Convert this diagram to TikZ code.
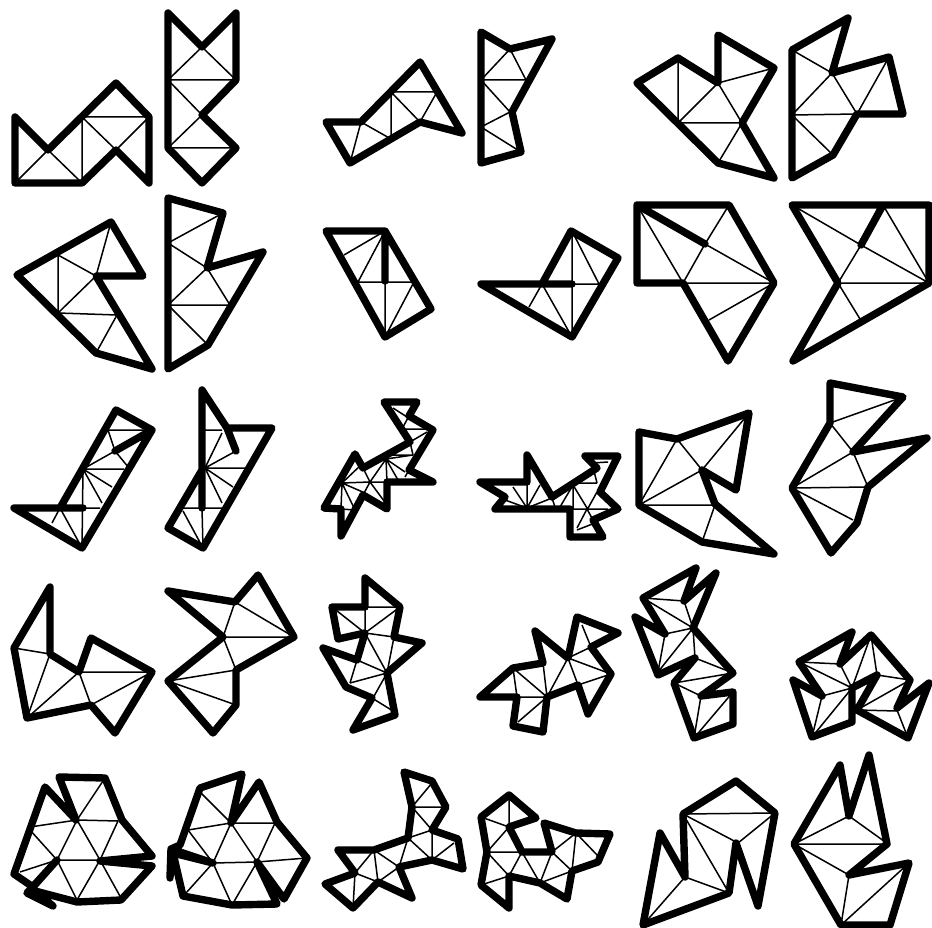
\documentclass[tikz,border=0pt]{standalone}
\usepackage{tikz}
\tikzset{
  hull/.style={line width=7.4pt,line join=round,line cap=round},
  mesh/.style={line width=1.5pt}
}
\begin{document}
\begin{tikzpicture}[x=1pt,y=-1pt]
  \useasboundingbox (0,0) rectangle (932,928);
  % row 1
  \draw[mesh] (48,150)--(15,183) (48,150)--(82,183) (82,117)--(82,183) (82,117)--(149,117) (82,117)--(116,150) (149,117)--(116,150);
  \draw[hull] (15,117)--(48,150)--(116,83)--(149,117)--(149,183)--(116,150)--(82,183)--(15,183)--cycle;
  \draw[mesh] (202,47)--(168,80) (202,47)--(236,80) (168,80)--(236,80) (168,80)--(202,115) (202,115)--(168,148) (168,148)--(236,148);
  \draw[hull] (168,13)--(202,47)--(236,13)--(236,80)--(202,115)--(236,148)--(202,183)--(168,148)--cycle;
  \draw[mesh] (361,122)--(350,163) (361,122)--(391,139) (391,92)--(391,139) (391,92)--(437,92) (391,92)--(420,122) (437,92)--(420,122);
  \draw[hull] (326,122)--(361,122)--(420,62)--(462,133)--(420,122)--(350,163)--cycle;
  \draw[mesh] (510,49)--(481,80) (510,49)--(526,80) (481,80)--(526,80) (481,80)--(510,112) (510,112)--(481,127) (481,127)--(521,152);
  \draw[hull] (481,32)--(510,49)--(552,39)--(512,112)--(521,152)--(481,163)--cycle;
  \draw[mesh] (678,58)--(678,123) (678,123)--(718,83) (718,83)--(774,68) (718,83)--(742,123) (678,123)--(742,123) (742,123)--(718,163);
  \draw[hull] (637,83)--(678,58)--(718,83)--(718,35)--(774,68)--(742,123)--(774,178)--(718,163)--cycle;
  \draw[mesh] (792,50)--(832,73) (832,73)--(792,115) (832,73)--(857,114) (889,57)--(857,114) (792,115)--(857,114) (792,115)--(833,155);
  \draw[hull] (792,50)--(848,18)--(832,73)--(889,57)--(903,114)--(857,114)--(833,155)--(792,178)--cycle;
  % row 2
  \draw[mesh] (58,255)--(58,313) (58,255)--(96,276) (96,276)--(111,222) (96,276)--(58,313) (58,313)--(117,315) (117,315)--(96,353);
  \draw[hull] (17,275)--(111,222)--(143,276)--(96,276)--(152,369)--(96,353)--cycle;
  \draw[mesh] (223,213)--(168,243) (168,243)--(207,268) (207,268)--(168,305) (207,268)--(230,305) (168,305)--(230,305) (168,305)--(208,345);
  \draw[hull] (168,198)--(223,213)--(207,268)--(263,252)--(208,345)--(168,369)--cycle;
  \draw[mesh] (385,231)--(344,255) (385,231)--(358,282) (358,282)--(414,282) (385,283)--(385,337) (414,282)--(385,337);
  \draw[hull] (326,231)--(385,231)--(431,309)--(385,337)--cycle (385,231)--(385,281);
  \draw[mesh] (572,231)--(572,337) (572,284)--(599,284) (572,231)--(599,284) (542,284)--(529,307) (542,284)--(572,337);
  \draw[hull] (481,284)--(542,284)--(571,231)--(618,258)--(572,337)--cycle (542,284)--(572,284);
  \draw[mesh] (637,205)--(683,283) (729,205)--(705,244) (705,244)--(683,283) (705,244)--(774,283) (683,283)--(774,283) (774,283)--(709,320);
  \draw[hull] (637,205)--(729,205)--(774,283)--(728,361)--(683,283)--(637,283)--cycle (637,205)--(705,244);
  \draw[mesh] (792,205)--(861,245) (861,245)--(838,283) (861,245)--(929,283) (883,205)--(929,283) (838,283)--(929,283) (838,283)--(860,319);
  \draw[hull] (792,205)--(929,205)--(929,283)--(793,361)--(838,283)--cycle (883,205)--(861,245);
  % row 3
  \draw[mesh] (108,430)--(152,430) (108,430)--(115,451) (115,451)--(129,468) (83,469)--(115,451) (83,469)--(124,469) (83,469)--(112,487) (83,469)--(102,503) (83,469)--(82,548) (83,508)--(100,508) (60,508)--(52,523) (60,508)--(82,548);
  \draw[hull] (14,508)--(60,508)--(116,410)--(152,430)--(82,548)--cycle (60,508)--(83,508) (152,430)--(115,451);
  \draw[mesh] (202,430)--(222,430) (205,468)--(222,433) (205,468)--(236,451) (205,468)--(246,468) (205,468)--(233,487) (205,468)--(222,503) (183,508)--(222,508) (202,508)--(203,548) (183,511)--(203,548);
  \draw[hull] (202,508)--(202,390)--(227,428)--(236,451) (227,428)--(272,428)--(203,548)--(168,528)--(202,470);
  \draw[mesh] (393,408)--(407,417) (409,416)--(403,427) (403,429)--(430,429) (403,429)--(410,442) (410,442)--(427,432) (410,442)--(413,455) (393,455)--(413,455) (410,442)--(393,455) (386,459)--(387,482) (386,459)--(398,480) (386,459)--(405,472) (386,459)--(413,455) (405,477)--(409,470) (370,482)--(386,459) (370,482)--(363,468) (370,482)--(387,482) (370,482)--(387,505) (370,482)--(363,495) (342,483)--(370,482) (342,483)--(361,465) (342,483)--(353,458) (342,483)--(365,493) (342,483)--(355,510) (342,483)--(341,509) (341,509)--(355,510);
  \draw[hull] (384,402)--(417,402)--(409,416)--(433,430)--(409,470)--(433,482)--(387,482)--(387,509)--(363,495)--(341,536)--(341,509)--(324,508)--(355,454)--(363,468)--(410,442)--cycle;
  \draw[mesh] (527,508)--(513,487) (527,508)--(527,483) (527,508)--(540,485) (527,508)--(552,498) (527,508)--(505,500) (552,498)--(555,507) (573,485)--(560,507) (573,485)--(573,508) (573,483)--(597,483) (573,485)--(587,508) (592,463)--(608,462) (592,463)--(597,483) (572,509)--(608,509) (587,509)--(577,528) (577,530)--(595,523) (587,510)--(597,492) (587,509)--(593,520);
  \draw[hull] (480,482)--(527,482)--(527,455)--(552,497)--(597,468)--(585,456)--(618,456)--(600,492)--(618,509)--(593,520)--(603,537)--(570,537)--(570,509)--(495,509)--(505,497)--cycle;
  \draw[mesh] (677,439)--(639,505) (677,439)--(702,470) (749,413)--(702,470) (702,470)--(639,505) (639,505)--(715,505) (715,505)--(702,542);
  \draw[hull] (639,432)--(677,439)--(749,413)--(736,490)--(702,470)--(715,504)--(774,554)--(702,542)--(639,505)--cycle;
  \draw[mesh] (830,423)--(903,397) (830,423)--(853,452) (853,452)--(792,488) (853,452)--(868,487) (792,488)--(868,487) (792,488)--(853,520);
  \draw[hull] (830,383)--(903,397)--(853,452)--(927,438)--(868,487)--(857,523)--(831,553)--(792,488)--(830,423)--cycle;
  % row 4
  \draw[mesh] (14,648)--(50,654) (50,654)--(27,718) (79,672)--(27,718) (79,672)--(152,672) (79,672)--(91,705) (91,705)--(152,672);
  \draw[hull] (50,587)--(50,654)--(79,672)--(91,638)--(152,672)--(115,733)--(91,705)--(27,718)--(14,648)--cycle;
  \draw[mesh] (235,602)--(223,637) (235,602)--(294,637) (223,637)--(294,637) (223,637)--(236,670) (168,681)--(236,670) (168,681)--(236,705);
  \draw[hull] (168,591)--(235,602)--(258,575)--(294,637)--(236,670)--(236,705)--(213,733)--(168,681)--(223,637)--cycle;
  \draw[mesh] (365,607)--(400,607) (365,607)--(365,633) (400,607)--(365,633) (332,607)--(365,633) (365,633)--(394,637) (365,633)--(387,673) (394,637)--(387,673) (357,660)--(387,673) (357,660)--(350,683) (350,683)--(387,673) (387,673)--(373,698) (372,698)--(393,711);
  \draw[hull] (365,578)--(400,607)--(394,637)--(422,643)--(387,673)--(395,715)--(353,730)--(372,698)--(346,687)--(323,648)--(357,660)--(365,633)--(338,639)--(332,607)--(365,607)--cycle;
  \draw[mesh] (513,668)--(517,697) (513,668)--(547,697) (517,697)--(547,697) (518,722)--(547,697) (543,663)--(547,697) (547,697)--(568,658) (568,658)--(578,685) (568,658)--(611,674) (578,685)--(611,674) (568,658)--(591,647) (582,625)--(591,647);
  \draw[hull] (480,697)--(513,668)--(543,663)--(535,631)--(568,658)--(577,617)--(618,633)--(591,647)--(611,674)--(588,714)--(578,685)--(547,697)--(543,732)--(513,726)--(517,697)--cycle;
  \draw[mesh] (643,598)--(684,601) (643,598)--(693,628) (684,601)--(693,628) (665,634)--(693,628) (665,634)--(658,672) (693,628)--(658,672) (693,628)--(695,658) (695,658)--(733,673) (674,683)--(733,673) (674,683)--(701,696) (701,696)--(694,738) (733,692)--(694,738);
  \draw[hull] (696,568)--(684,601)--(716,573)--(693,628)--(733,673)--(701,696)--(733,692)--(733,724)--(694,738)--(674,683)--(695,658)--(658,675)--(635,617)--(665,634)--(643,598)--cycle;
  \draw[mesh] (799,662)--(840,664) (799,662)--(852,688) (840,664)--(852,688) (852,688)--(871,635) (871,635)--(877,675) (877,675)--(910,680) (822,696)--(852,688) (822,696)--(812,737) (852,688)--(812,737) (857,710)--(910,680) (857,710)--(897,711) (897,710)--(908,738);
  \draw[hull] (852,632)--(840,664)--(871,635)--(910,680)--(897,708)--(929,683)--(908,738)--(857,710)--(877,675)--(852,688)--(852,722)--(812,737)--(793,680)--(822,696)--(799,662)--cycle;
  % row 5
  \draw[mesh] (77,820)--(105,778) (77,820)--(30,827) (77,820)--(118,821) (77,820)--(57,860) (77,820)--(100,860) (118,821)--(100,860) (30,830)--(57,860) (57,860)--(20,872) (57,860)--(100,860) (57,860)--(77,900) (100,860)--(77,900) (100,860)--(121,898);
  \draw[hull] (14,874)--(45,787)--(76,820)--(59,777)--(105,778)--(122,820)--(152,856)--(100,861)--(152,866)--(121,900)--(77,902)--(35,891)--(53,906)--(27,893)--(57,860)--(33,887)--cycle;
  \draw[mesh] (200,792)--(231,823) (231,823)--(188,830) (231,823)--(275,823) (231,823)--(213,863) (231,823)--(257,862) (275,823)--(257,862) (188,830)--(213,863) (257,862)--(307,858) (213,863)--(257,862) (213,863)--(186,893) (213,863)--(232,905) (257,862)--(232,905);
  \draw[hull] (200,788)--(242,774)--(231,823)--(259,782)--(277,822)--(307,858)--(284,899)--(257,862)--(277,904)--(232,905)--(183,896)--(173,853)--(213,863)--(171,849)--(170,878)--(171,849)--(180,845)--cycle;
  \draw[mesh] (432,783)--(412,807) (412,807)--(446,807) (412,807)--(432,830) (408,838)--(432,830) (432,830)--(432,860) (408,838)--(432,860) (432,860)--(454,843) (408,838)--(399,867) (374,850)--(399,867) (374,850)--(378,882) (355,873)--(374,850) (399,867)--(378,882) (355,873)--(378,882) (355,873)--(353,908);
  \draw[hull] (404,772)--(432,781)--(446,807)--(432,830)--(458,839)--(463,869)--(432,860)--(399,867)--(412,898)--(378,882)--(353,908)--(325,884)--(355,873)--(338,850)--(374,850)--(408,838)--(412,807)--cycle;
  \draw[mesh] (509,795)--(509,827) (481,817)--(509,827) (509,827)--(487,852) (487,852)--(522,852) (487,852)--(509,876) (522,852)--(509,876) (522,852)--(540,883) (552,852)--(540,883) (552,852)--(576,833) (552,852)--(572,871) (540,883)--(572,871) (576,833)--(572,871) (576,833)--(598,856) (509,876)--(481,885);
  \draw[hull] (509,795)--(536,818)--(509,827)--(522,852)--(552,852)--(544,823)--(576,833)--(610,834)--(598,862)--(572,871)--(567,899)--(540,883)--(509,876)--(509,908)--(481,885)--(487,852)--(481,817)--cycle;
  \draw[mesh] (683,814)--(775,813) (683,814)--(738,843) (775,813)--(738,843) (683,814)--(729,893) (685,877)--(729,893) (685,877)--(643,925);
  \draw[hull] (660,833)--(685,877)--(683,814)--(736,781)--(775,813)--(758,906)--(736,843)--(729,893)--(643,925)--cycle;
  \draw[mesh] (849,816)--(794,844) (849,816)--(888,844) (794,844)--(888,844) (794,844)--(849,875) (849,875)--(841,925) (909,863)--(841,925);
  \draw[hull] (840,765)--(849,816)--(869,755)--(887,844)--(849,875)--(909,863)--(890,925)--(841,925)--(794,844)--cycle;
\end{tikzpicture}
\end{document}
